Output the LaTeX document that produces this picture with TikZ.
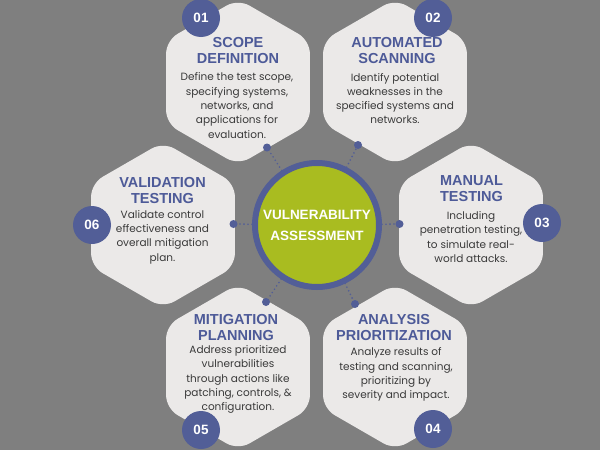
\documentclass[tikz,border=0pt]{standalone}
\usepackage{fontspec}
\setmainfont{Poppins}
\newfontfamily\headfont{Liberation Sans}
\definecolor{bgc}{HTML}{7F7F7F}
\definecolor{hexc}{HTML}{EBE9E8}
\definecolor{numc}{HTML}{525E97}
\definecolor{ttlc}{HTML}{4D5A98}
\definecolor{greenc}{HTML}{A9BC20}
\definecolor{bodc}{HTML}{3A3A3A}
\tikzset{hexa/.pic={\path[fill=hexc, rounded corners=13pt] (71.9,0) -- (71.9,41.5) -- (0,83) -- (-71.9,41.5) -- (-71.9,-41.5) -- (0,-83) -- (71.9,-41.5) -- cycle;}}
\begin{document}
\begin{tikzpicture}[x=1pt,y=-1pt,
  ttl/.style={font=\headfont\bfseries\fontsize{14.5}{16}\selectfont, text=ttlc, align=center, inner sep=0pt},
  bod/.style={font=\fontsize{10.5}{14.3}\selectfont, text=bodc, align=center, inner sep=0pt},
  num/.style={circle, fill=numc, minimum size=38pt, inner sep=0pt, text=white, font=\headfont\bfseries\fontsize{13.5}{16}\selectfont},
  dotn/.style={circle, fill=numc, minimum size=8pt, inner sep=0pt},
  link/.style={draw=numc, line width=1.8pt, line cap=round, dash pattern=on 0pt off 4pt},
  core/.style={circle, draw=numc, line width=6pt, fill=greenc, minimum size=124pt, inner sep=0pt, text=white, align=center, font=\headfont\bfseries\fontsize{13.5}{21}\selectfont}
]
\useasboundingbox (0,0) rectangle (600,450);
\fill[bgc] (0,0) rectangle (600,450);
% hexagons
\pic at (238,82) {hexa};
\pic at (395,82) {hexa};
\pic at (471,225) {hexa};
\pic at (395,367) {hexa};
\pic at (238,367) {hexa};
\pic at (163,225) {hexa};
% centre
\node[core] (core) at (317,225) {VULNERABILITY\\ASSESSMENT};
% dots
\node[dotn] (d1) at (267,147.5) {};
\node[dotn] (d2) at (358,145) {};
\node[dotn] (d3) at (399.5,224) {};
\node[dotn] (d4) at (355,304) {};
\node[dotn] (d5) at (266,302) {};
\node[dotn] (d6) at (233.5,224) {};
\foreach \d in {d1,d2,d3,d4,d5,d6} \draw[link] (core) -- (\d);
% number circles
\node[num] (n1) at (201,18) {01};
\node[num] (n2) at (433,18) {02};
\node[num] (n3) at (542,223) {03};
\node[num] (n4) at (433,429) {04};
\node[num] (n5) at (201,430) {05};
\node[num] (n6) at (92,225) {06};
% texts
\node[ttl] (t1) at (238,51) {SCOPE\\DEFINITION};
\node[bod] (b1) at (237,105.5) {Define the test scope,\\specifying systems,\\networks, and\\applications for\\evaluation.};
\node[ttl] (t2) at (397,50.75) {AUTOMATED\\SCANNING};
\node[bod] (b2) at (395,98.5) {Identify potential\\weaknesses in the\\specified systems and\\networks.};
\node[ttl] (t3) at (471.5,189) {MANUAL\\TESTING};
\node[bod] (b3) at (471,237) {Including\\penetration testing,\\to simulate real-\\world attacks.};
\node[ttl] (t4) at (394,328) {ANALYSIS\\PRIORITIZATION};
\node[bod] (b4) at (396,374.5) {Analyze results of\\testing and scanning,\\prioritizing by\\severity and impact.};
\node[ttl] (t5) at (236,328) {MITIGATION\\PLANNING};
\node[bod] (b5) at (238,379.5) {Address prioritized\\vulnerabilities\\through actions like\\patching, controls, \&\\configuration.};
\node[ttl] (t6) at (162.5,191) {VALIDATION\\TESTING};
\node[bod] (b6) at (162.5,237) {Validate control\\effectiveness and\\overall mitigation\\plan.};
\end{tikzpicture}
\end{document}
